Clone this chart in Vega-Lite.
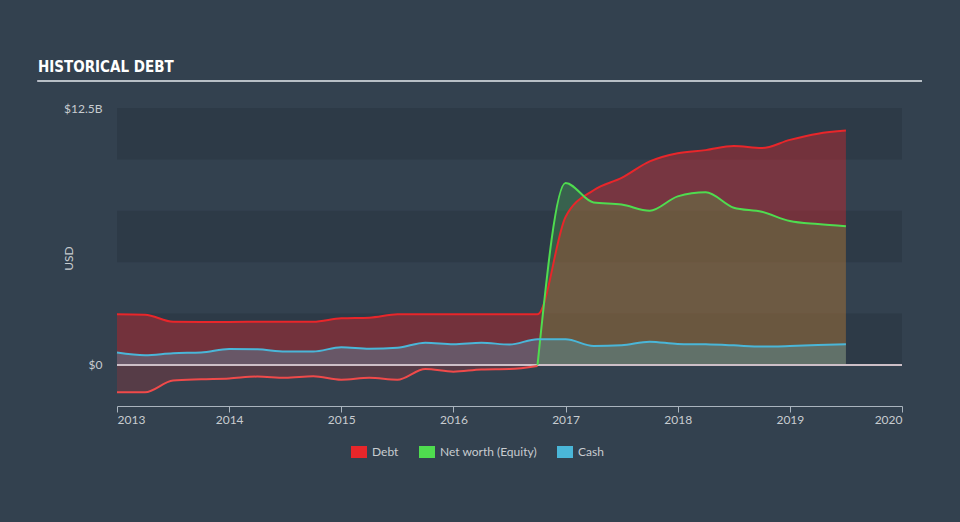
{
  "$schema": "https://vega.github.io/schema/vega-lite/v6.json",
  "width": 785,
  "height": 298,
  "autosize": {"type": "none"},
  "padding": {"left": 117, "top": 108, "right": 58, "bottom": 116},
  "background": "#33414f",
  "title": {"text": "HISTORICAL DEBT", "anchor": "start", "frame": "group", "dx": -79, "offset": 5, "font": "Liberation Sans Narrow, DejaVu Sans Condensed", "fontSize": 15, "fontWeight": "bold", "color": "#ffffff"},
  "config": {
    "view": {"stroke": null},
    "legend": {"orient": "none", "legendX": 234, "legendY": 336, "direction": "horizontal", "symbolType": "M-1,-0.75H1V0.75H-1Z", "symbolSize": 256, "symbolOpacity": 1, "symbolStrokeWidth": 0, "labelColor": "#c8ccd0", "labelFont": "Lato", "labelFontSize": 12, "columnPadding": 20, "labelOffset": 5, "padding": 0}
  },
  "datasets": {
    "bands": [{"lo": 0, "hi": 2.5}, {"lo": 5, "hi": 7.5}, {"lo": 10, "hi": 12.5}],
    "hist": [
      {"t": 2013.0, "debt": 2.46, "eqneg": -1.33, "eqpos": null, "cash": 0.60},
      {"t": 2013.25, "debt": 2.44, "eqneg": -1.33, "eqpos": null, "cash": 0.47},
      {"t": 2013.5, "debt": 2.10, "eqneg": -0.76, "eqpos": null, "cash": 0.57},
      {"t": 2013.75, "debt": 2.09, "eqneg": -0.70, "eqpos": null, "cash": 0.60},
      {"t": 2014.0, "debt": 2.09, "eqneg": -0.66, "eqpos": null, "cash": 0.77},
      {"t": 2014.25, "debt": 2.10, "eqneg": -0.57, "eqpos": null, "cash": 0.76},
      {"t": 2014.5, "debt": 2.10, "eqneg": -0.63, "eqpos": null, "cash": 0.65},
      {"t": 2014.75, "debt": 2.10, "eqneg": -0.55, "eqpos": null, "cash": 0.65},
      {"t": 2015.0, "debt": 2.27, "eqneg": -0.72, "eqpos": null, "cash": 0.86},
      {"t": 2015.25, "debt": 2.30, "eqneg": -0.63, "eqpos": null, "cash": 0.79},
      {"t": 2015.5, "debt": 2.46, "eqneg": -0.72, "eqpos": null, "cash": 0.84},
      {"t": 2015.75, "debt": 2.47, "eqneg": -0.20, "eqpos": null, "cash": 1.08},
      {"t": 2016.0, "debt": 2.47, "eqneg": -0.33, "eqpos": null, "cash": 1.00},
      {"t": 2016.25, "debt": 2.46, "eqneg": -0.22, "eqpos": null, "cash": 1.08},
      {"t": 2016.5, "debt": 2.46, "eqneg": -0.20, "eqpos": null, "cash": 0.99},
      {"t": 2016.75, "debt": 2.46, "eqneg": -0.05, "eqpos": 0, "cash": 1.25},
      {"t": 2017.0, "debt": 7.2, "eqneg": null, "eqpos": 8.85, "cash": 1.25},
      {"t": 2017.25, "debt": 8.5, "eqneg": null, "eqpos": 7.9, "cash": 0.92},
      {"t": 2017.5, "debt": 9.1, "eqneg": null, "eqpos": 7.8, "cash": 0.96},
      {"t": 2017.75, "debt": 9.9, "eqneg": null, "eqpos": 7.5, "cash": 1.13},
      {"t": 2018.0, "debt": 10.3, "eqneg": null, "eqpos": 8.2, "cash": 1.02},
      {"t": 2018.25, "debt": 10.45, "eqneg": null, "eqpos": 8.4, "cash": 1.0},
      {"t": 2018.5, "debt": 10.65, "eqneg": null, "eqpos": 7.65, "cash": 0.95},
      {"t": 2018.75, "debt": 10.55, "eqneg": null, "eqpos": 7.45, "cash": 0.89},
      {"t": 2019.0, "debt": 10.95, "eqneg": null, "eqpos": 7.0, "cash": 0.92},
      {"t": 2019.25, "debt": 11.25, "eqneg": null, "eqpos": 6.85, "cash": 0.97},
      {"t": 2019.5, "debt": 11.4, "eqneg": null, "eqpos": 6.75, "cash": 1.0}
    ]
  },
  "layer": [
    {
      "data": {"name": "bands"},
      "mark": {"type": "rect", "color": "#2d3a47"},
      "encoding": {
        "y": {"field": "lo", "type": "quantitative", "scale": {"domain": [-2, 12.5], "nice": false, "zero": false},
          "axis": {"values": [0, 12.5], "labelExpr": "datum.value == 0 ? '$0' : '$12.5B'", "domain": false, "ticks": false, "grid": false, "labelColor": "#c8ccd0", "labelFont": "Lato", "labelFontSize": 12, "labelPadding": 15, "title": "USD", "titleColor": "#c8ccd0", "titleFont": "Lato", "titleFontSize": 12, "titleFontWeight": "normal", "titleX": -49, "titleY": 150, "titleAngle": -90, "titleBaseline": "middle", "titleAlign": "center"}},
        "y2": {"field": "hi"}
      }
    },
    {
      "data": {"name": "hist"},
      "encoding": {
        "x": {"field": "t", "type": "quantitative", "scale": {"domain": [2013, 2020], "nice": false, "zero": false},
          "axis": {"values": [2013, 2014, 2015, 2016, 2017, 2018, 2019, 2020], "format": "d", "domainColor": "#aab4be", "tickColor": "#aab4be", "tickSize": 6, "labelColor": "#c8ccd0", "labelFont": "Lato", "labelFontSize": 12, "grid": false, "labelPadding": 2, "title": null}}
      },
      "layer": [
        {
          "mark": {"type": "area", "interpolate": "monotone", "opacity": 0.38},
          "encoding": {
            "y": {"field": "debt", "type": "quantitative", "title": "USD"},
            "y2": {"datum": 0},
            "color": {"datum": "Debt", "type": "nominal", "scale": {"domain": ["Debt", "Net worth (Equity)", "Cash"], "range": ["#e8262a", "#4fdc4f", "#4ab6d8"]}, "legend": {"title": null}}
          }
        },
        {
          "mark": {"type": "area", "interpolate": "monotone", "opacity": 0.22},
          "encoding": {
            "y": {"field": "eqpos", "type": "quantitative", "title": "USD"},
            "y2": {"datum": 0},
            "color": {"datum": "Net worth (Equity)", "type": "nominal", "legend": {"title": null}}
          }
        },
        {
          "mark": {"type": "area", "interpolate": "monotone", "opacity": 0.28},
          "encoding": {
            "y": {"field": "cash", "type": "quantitative", "title": "USD"},
            "y2": {"datum": 0},
            "color": {"datum": "Cash", "type": "nominal", "legend": {"title": null}}
          }
        },
        {
          "mark": {"type": "area", "interpolate": "monotone", "color": "#e8262a", "opacity": 0.2},
          "encoding": {
            "y": {"field": "eqneg", "type": "quantitative", "title": "USD"},
            "y2": {"datum": 0}
          }
        },
        {
          "mark": {"type": "rule", "color": "#cdbfc7", "strokeWidth": 2, "opacity": 0.8},
          "encoding": {"y": {"datum": 0}, "x": {"datum": 2013}, "x2": {"datum": 2020}}
        },
        {
          "mark": {"type": "line", "interpolate": "monotone", "color": "#e8262a", "strokeWidth": 2},
          "encoding": {"y": {"field": "debt", "type": "quantitative", "title": "USD"}}
        },
        {
          "mark": {"type": "line", "interpolate": "monotone", "color": "#4fdc4f", "strokeWidth": 2},
          "encoding": {"y": {"field": "eqpos", "type": "quantitative", "title": "USD"}}
        },
        {
          "mark": {"type": "line", "interpolate": "monotone", "color": "#4ab6d8", "strokeWidth": 2},
          "encoding": {"y": {"field": "cash", "type": "quantitative", "title": "USD"}}
        },
        {
          "mark": {"type": "line", "interpolate": "monotone", "color": "#f04a4a", "strokeWidth": 2},
          "encoding": {"y": {"field": "eqneg", "type": "quantitative", "title": "USD"}}
        },
        {
          "mark": {"type": "rule", "color": "#b8bfc6", "strokeWidth": 2, "clip": false},
          "encoding": {"x": {"datum": 2012.295}, "x2": {"datum": 2020.178}, "y": {"datum": 13.81}}
        }
      ]
    }
  ]
}
